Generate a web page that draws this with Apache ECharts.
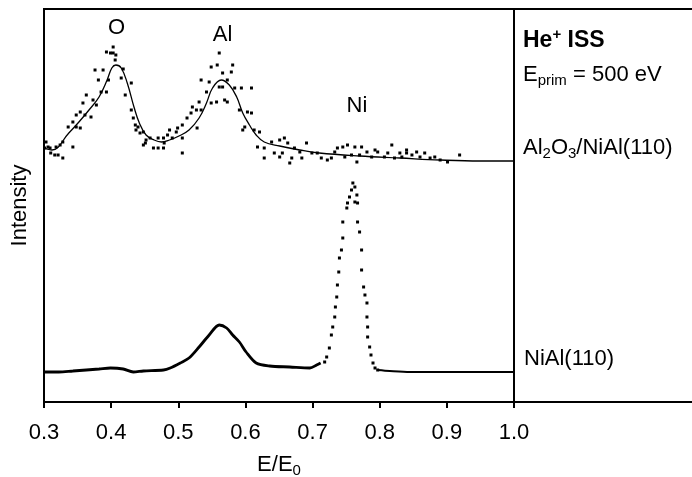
<!DOCTYPE html>
<html><head><meta charset="utf-8">
<script src="https://cdn.jsdelivr.net/npm/echarts/dist/echarts.min.js"></script>
</head>
<body style="margin:0;background:#fff">
<div id="c" style="width:692px;height:477px"></div>
<script>
// x tick labels (E/E0)
const xTicks = ['0.3','0.4','0.5','0.6','0.7','0.8','0.9','1.0'];

// Al2O3/NiAl(110): measured points [E/E0, intensity (arb. units)]
const upperDots = [
 [0.403,355],[0.393,350],[0.399,349],[0.403,349],[0.407,347],[0.406,342],[0.376,332],[0.388,332],[0.418,333],
 [0.381,322],[0.396,322],[0.415,324],[0.430,319],[0.385,310],[0.393,310],[0.421,307],[0.363,307],[0.373,302],
 [0.378,297],[0.358,299],[0.370,285],[0.354,290],[0.348,287],[0.361,287],[0.343,280],[0.336,275],[0.348,275],
 [0.354,274],[0.430,292],[0.433,284],[0.436,277],[0.440,275],[0.437,272],[0.448,270],[0.443,269],[0.328,260],
 [0.324,257],[0.343,255],[0.318,255],[0.303,260],[0.301,254],[0.306,255],[0.310,249],[0.316,247],[0.321,247],
 [0.328,244],[0.309,254],[0.452,262],[0.458,264],[0.470,264],[0.478,264],[0.451,259],[0.463,254],[0.470,254],
 [0.478,254],[0.448,257],
 [0.561,349],[0.549,335],[0.558,337],[0.581,337],[0.534,322],[0.546,320],[0.566,329],[0.579,330],[0.573,322],
 [0.561,315],[0.566,315],[0.584,314],[0.594,314],[0.609,314],[0.542,310],[0.549,299],[0.557,300],[0.569,302],
 [0.573,300],[0.531,300],[0.521,295],[0.527,292],[0.519,289],[0.534,292],[0.591,292],[0.603,290],[0.609,289],
 [0.513,284],[0.506,277],[0.528,274],[0.499,274],[0.497,270],[0.599,275],[0.596,272],[0.613,272],[0.621,270],
 [0.487,272],[0.484,267],[0.491,264],[0.506,264],[0.479,259],[0.506,249],[0.618,255],[0.628,254],[0.639,260],
 [0.651,262],[0.658,264],[0.643,249],[0.628,244],[0.651,245],[0.655,249],
 [0.663,259],[0.673,254],[0.691,259],[0.681,250],[0.669,244],[0.666,239],[0.699,249],[0.707,249],[0.713,244],
 [0.722,242],[0.733,250],[0.737,254],[0.745,255],[0.752,257],[0.763,255],[0.758,247],[0.766,240],[0.773,255],
 [0.781,250],[0.788,245],[0.797,250],[0.807,245],[0.818,257],[0.822,244],[0.833,245],[0.840,249],[0.748,245],
 [0.728,244],[0.684,244],[0.770,247],[0.793,252],[0.812,249],[0.830,249],[0.840,252],[0.848,247],[0.855,250],
 [0.860,245],[0.867,249],[0.875,244],[0.882,245],[0.890,242],[0.901,240],[0.919,247]
];

// Al2O3/NiAl(110): fitted curve
const upperFit = [
 [0.300,254],[0.312,252],[0.337,269],[0.352,280],[0.367,292],[0.382,305],[0.394,322],[0.401,334],[0.407,337],
 [0.415,334],[0.424,319],[0.434,295],[0.442,279],[0.452,267],[0.464,262],[0.475,260],[0.487,262],[0.501,266],
 [0.516,272],[0.531,284],[0.542,299],[0.551,314],[0.564,322],[0.576,317],[0.587,305],[0.596,289],[0.606,277],
 [0.616,267],[0.628,260],[0.651,256],[0.681,252],[0.710,249],[0.770,246],[0.830,244],[0.890,242],[0.949,241],
 [1.000,241]
];

// NiAl(110): dense region below the Ni peak
const lowerMain = [
 [0.300,30],[0.322,30],[0.343,31],[0.363,32],[0.382,33],[0.399,34],[0.418,33],[0.433,30],[0.448,31],[0.478,32],
 [0.488,34],[0.503,39],[0.516,44],[0.531,55],[0.546,67],[0.561,77],[0.572,74],[0.581,67],[0.591,60],[0.601,50],
 [0.616,39],[0.636,36],[0.666,35],[0.696,34],[0.706,37],[0.712,39]
];

// NiAl(110): Ni peak points
const niPeak = [
 [0.718,40],[0.721,45],[0.725,54],[0.728,67],[0.730,75],[0.733,85],[0.734,95],[0.736,105],[0.737,117],
 [0.739,130],[0.740,144],[0.743,152],[0.745,164],[0.745,180],[0.751,194],[0.752,199],[0.755,205],[0.758,212],
 [0.760,219],[0.763,215],[0.766,207],[0.763,200],[0.767,199],[0.767,180],[0.770,170],[0.773,152],[0.773,132],
 [0.776,115],[0.778,107],[0.781,99],[0.781,85],[0.782,75],[0.782,65],[0.785,55],[0.787,47],[0.790,39],
 [0.793,34],[0.797,32]
];

// NiAl(110): tail after the Ni peak
const lowerTail = [[0.797,32],[0.815,31],[0.845,30],[0.904,30],[1.000,30]];

// peak annotations
const peakNames = ['O','Al','Ni'];
const peakPos = [[0.408,374],[0.566,367],[0.766,296]];

const FONT = 'Liberation Sans, Arial, sans-serif';
const FS = 22;
const chart = echarts.init(document.getElementById('c'));
chart.setOption({
  animation: false,
  backgroundColor: '#fff',
  grid: { left: 44, top: 9, width: 470, height: 393, containLabel: false, outerBoundsMode: 'none' },
  xAxis: {
    type: 'value', min: 0.3, max: 1.0, interval: 0.1,
    axisLine: { lineStyle: { color: '#000', width: 2 } },
    axisTick: { inside: false, length: 6, lineStyle: { color: '#000', width: 2 } },
    splitLine: { show: false },
    axisLabel: {
      color: '#000', fontSize: FS, fontFamily: FONT, margin: 20,
      formatter: v => { const i = Math.round((v - 0.3) * 10); return xTicks[i] !== undefined ? xTicks[i] : ''; }
    },
    name: '{a|E/E}{s|0}', nameLocation: 'middle', nameGap: 50,
    nameTextStyle: { rich: {
      a: { fontSize: FS, fontFamily: FONT, color: '#000' },
      s: { fontSize: 15, fontFamily: FONT, color: '#000', padding: [11, 0, 0, 0] }
    } }
  },
  yAxis: {
    type: 'value', min: 0, max: 393,
    axisLine: { show: true, lineStyle: { color: '#000', width: 2 } },
    axisTick: { show: false }, axisLabel: { show: false }, splitLine: { show: false },
    name: 'Intensity', nameLocation: 'middle', nameGap: 13,
    nameTextStyle: { fontSize: FS, fontFamily: FONT, color: '#000' }
  },
  series: [
    { type: 'scatter', data: upperDots, symbol: 'rect', symbolSize: 3, itemStyle: { color: '#000', opacity: 1 }, silent: true },
    { type: 'line', data: upperFit, smooth: 0.4, showSymbol: false, lineStyle: { color: '#000', width: 1.3 }, silent: true },
    { type: 'line', data: lowerMain, smooth: 0.3, showSymbol: false, lineStyle: { color: '#000', width: 2.8 }, silent: true },
    { type: 'scatter', data: niPeak, symbol: 'rect', symbolSize: 3, itemStyle: { color: '#000', opacity: 1 }, silent: true },
    { type: 'line', data: lowerTail, smooth: 0.3, showSymbol: false, lineStyle: { color: '#000', width: 2 }, silent: true },
    { type: 'scatter', symbolSize: 0, silent: true, itemStyle: { opacity: 1 },
      data: peakNames.map((n, i) => ({ name: n, value: peakPos[i] })),
      label: { show: true, position: 'inside', formatter: '{b}', color: '#000', fontSize: FS, fontFamily: FONT } }
  ],
  graphic: [
    { type: 'line', shape: { x1: 43, y1: 9, x2: 692, y2: 9 }, style: { stroke: '#000', lineWidth: 2 } },
    { type: 'line', shape: { x1: 514, y1: 9, x2: 514, y2: 406 }, style: { stroke: '#000', lineWidth: 2 } },
    { type: 'line', shape: { x1: 514, y1: 402, x2: 692, y2: 402 }, style: { stroke: '#000', lineWidth: 2 } },
    { type: 'text', left: 523, top: 27, style: {
        text: '{b|He}{sup|+}{b| ISS}', fill: '#000',
        rich: { b: { fontSize: 23, fontWeight: 'bold', fontFamily: FONT, fill: '#000' },
                sup: { fontSize: 15, fontWeight: 'bold', fontFamily: FONT, fill: '#000', padding: [0, 0, 13, 0] } } } },
    { type: 'text', left: 523, top: 64, style: {
        text: '{a|E}{s|prim}{a| = 500 eV}', fill: '#000',
        rich: { a: { fontSize: FS, fontFamily: FONT, fill: '#000' },
                s: { fontSize: 15, fontFamily: FONT, fill: '#000', padding: [12, 0, 0, 0] } } } },
    { type: 'text', left: 523, top: 137, style: {
        text: '{a|Al}{s|2}{a|O}{s|3}{a|/NiAl(110)}', fill: '#000',
        rich: { a: { fontSize: FS, fontFamily: FONT, fill: '#000' },
                s: { fontSize: 15, fontFamily: FONT, fill: '#000', padding: [12, 0, 0, 0] } } } },
    { type: 'text', left: 524, top: 348, style: {
        text: 'NiAl(110)', fill: '#000', fontSize: FS, fontFamily: FONT } }
  ]
});
</script>
</body></html>
